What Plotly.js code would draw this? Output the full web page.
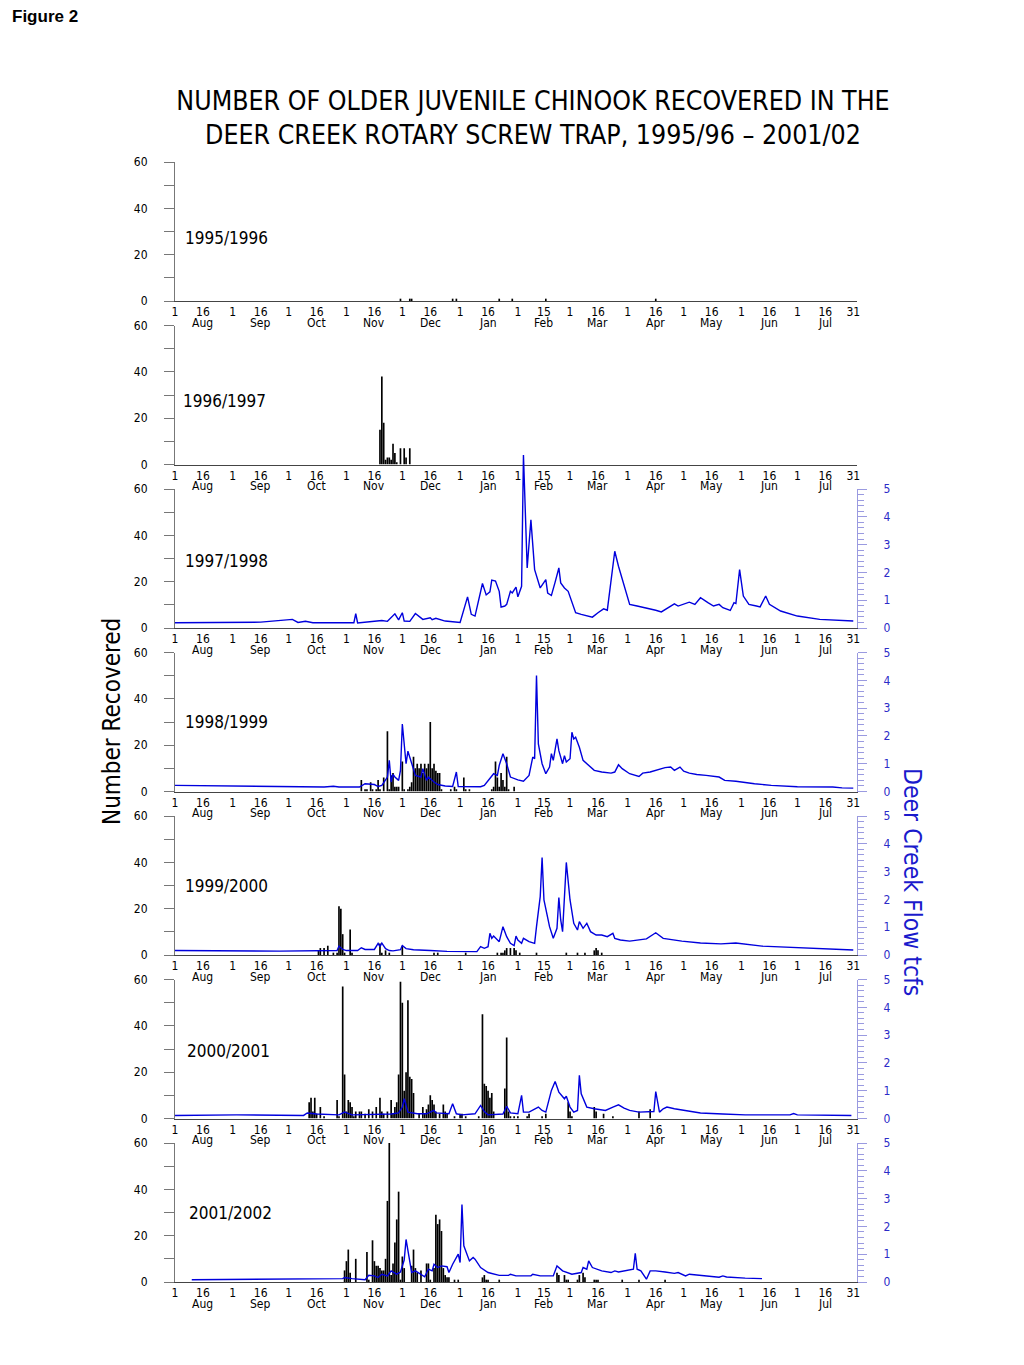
<!DOCTYPE html>
<html>
<head>
<meta charset="utf-8">
<script src="https://cdn.plot.ly/plotly-3.0.1.min.js"></script>
<style>
html,body{margin:0;padding:0;background:#fff;}
#chart{width:1024px;height:1365px;}
</style>
</head>
<body>
<div id="chart"></div>
<script>
// ---------- DATA ----------
// x = day offset from August 1 (0 = Aug 1, 364 = Jul 31)
const seasonLabels = ["1995/1996","1996/1997","1997/1998","1998/1999","1999/2000","2000/2001","2001/2002"];
const monthNames = ["Aug","Sep","Oct","Nov","Dec","Jan","Feb","Mar","Apr","May","Jun","Jul"];
const monthStartDays = [0,31,61,92,122,153,184,212,243,273,304,334];
const midMonthDays = [15,46,76,107,137,168,198,227,258,288,319,349];
const midMonthLabels = ["16","16","16","16","16","16","15","16","16","16","16","16"];
const lastDay = 364;
const lastDayLabel = "31";

// Fish counts (number recovered per day)
const fish9596Day = [121,126,127,149,151,174,181,199,258];
const fish9596N   = [1,1,1,1,1,1,1,1,1];

const fish9697Day = [110,111,112,113,114,115,116,117,118,119,121,123,124,126];
const fish9697N   = [15,38,18,2,3,3,2,9,5,1,7,7,3,7];

const fish9798Day = [];
const fish9798N   = [];

const fish9899Day = [100,102,103,105,106,108,109,110,112,114,115,116,117,118,119,120,122,123,125,126,127,128,129,130,131,132,133,134,135,136,137,138,139,140,141,142,143,148,150,151,155,156,158,170,171,172,173,174,175,176,177,178,179,182];
const fish9899N   = [5,1,1,4,1,1,5,1,6,26,1,7,8,2,2,2,13,1,1,2,4,15,10,12,10,12,8,12,10,12,30,10,12,9,8,8,1,1,2,1,6,1,1,1,2,13,6,2,8,5,2,15,1,2];

const fish9900Day = [77,78,80,82,85,87,88,89,90,91,94,95,110,111,113,115,122,139,141,156,173,175,176,177,178,180,182,183,185,194,210,216,220,225,226,227,229];
const fish9900N   = [2,3,3,4,1,1,21,20,9,1,11,1,5,1,2,1,4,1,1,1,1,1,1,2,3,3,3,2,1,1,1,1,1,2,3,2,1];

const fish0001Day = [72,73,74,75,76,78,80,87,88,90,91,92,93,94,95,96,97,99,100,102,104,106,108,110,111,112,114,116,117,118,119,120,121,122,123,124,125,126,127,128,131,133,134,135,136,137,138,139,140,142,144,145,146,150,153,154,156,163,165,166,167,168,169,170,171,177,178,179,180,182,184,189,190,197,199,211,212,213,225,226,230,235,249,255];
const fish0001N   = [7,9,3,9,2,5,1,8,1,57,19,3,8,7,5,1,3,3,3,2,4,3,5,9,3,2,3,8,2,5,7,19,59,50,12,20,51,18,17,11,2,5,2,4,6,10,8,6,3,2,6,3,2,1,2,2,1,1,45,15,14,12,9,11,3,13,35,3,1,1,1,1,2,1,2,7,3,1,5,3,2,1,3,4];

const fish0102Day = [91,92,93,94,97,103,104,106,107,108,109,110,111,112,113,114,115,116,117,118,119,120,121,122,123,127,128,129,130,132,135,136,137,139,140,141,142,143,144,145,146,147,150,152,165,166,167,168,174,205,206,209,210,211,216,217,219,220,225,226,227,240,249,263];
const fish0102N   = [5,9,14,4,10,13,1,18,9,7,7,6,5,5,10,35,62,3,8,17,27,39,1,11,6,7,14,6,4,5,8,8,1,6,29,25,27,22,6,3,2,2,1,1,2,3,1,1,1,4,3,3,1,1,1,3,4,2,1,1,1,1,1,1];

// Deer Creek flow (tcfs)
const flow9798Day  = [0,20,46,63,66,70,74,96,97,98,109,111,114,118,120,122,123,126,129,133,137,138,140,145,153,157,159,161,165,167,169,170,172,174,175,177,178,180,181,183,184,186,187,189,191,193,196,199,200,202,204,206,207,209,211,213,215,218,222,224,227,230,232,234,236,238,241,244,248,251,255,258,261,263,268,270,274,276,279,282,286,289,292,294,298,300,301,303,305,308,312,314,317,319,325,334,346,364];
const flow9798Tcfs = [0.19,0.21,0.21,0.31,0.2,0.24,0.19,0.19,0.52,0.18,0.25,0.27,0.24,0.51,0.29,0.55,0.25,0.24,0.52,0.31,0.37,0.3,0.35,0.25,0.2,1.12,0.49,0.43,1.6,1.19,1.3,1.72,1.69,1.32,0.75,0.79,0.85,1.32,1.26,1.47,1.12,1.5,6.22,2.16,3.89,2.1,1.44,1.74,1.26,1.17,1.65,2.16,1.62,1.44,1.32,0.91,0.55,0.49,0.43,0.39,0.55,0.69,0.64,1.8,2.76,2.22,1.5,0.85,0.79,0.75,0.69,0.64,0.58,0.67,0.87,0.79,0.87,0.93,0.85,1.09,0.91,0.79,0.85,0.73,0.63,0.91,0.88,2.1,1.15,0.85,0.79,0.76,1.15,0.85,0.61,0.43,0.31,0.25];

const flow9899Day  = [0,40,80,85,88,99,102,107,109,111,114,115,116,117,118,120,121,122,124,125,127,129,132,133,135,136,139,141,145,149,151,152,164,166,171,173,174,176,178,180,184,187,190,192,193,194,195,197,199,201,202,203,205,206,208,209,210,212,213,214,215,217,219,222,225,229,234,236,238,240,244,249,251,255,258,263,266,268,271,273,276,280,285,292,295,301,311,320,334,353,358,364];
const flow9899Tcfs = [0.22,0.2,0.16,0.19,0.16,0.16,0.28,0.25,0.18,0.22,0.52,1.12,0.34,0.61,0.52,0.4,0.76,2.43,1.0,1.45,1.0,0.58,0.52,0.82,0.4,0.52,0.34,0.25,0.2,0.18,0.7,0.18,0.17,0.22,0.64,0.58,0.94,1.36,1.0,0.52,0.42,0.37,0.58,1.24,1.18,4.17,1.71,1.0,0.64,0.88,1.36,1.12,1.89,1.47,1.0,1.29,1.06,1.18,2.13,1.89,1.95,1.59,1.12,0.94,0.76,0.7,0.66,0.7,0.96,0.82,0.64,0.54,0.66,0.7,0.76,0.86,0.88,0.76,0.88,0.73,0.66,0.61,0.58,0.52,0.4,0.37,0.28,0.22,0.17,0.16,0.13,0.12];

const flow9900Day  = [0,30,56,87,88,90,92,98,100,102,107,109,110,111,113,115,117,121,122,124,128,137,146,162,164,166,168,169,170,171,173,174,176,178,180,182,183,184,186,187,190,193,194,196,197,198,201,203,205,206,207,208,210,212,214,216,217,219,221,223,226,229,232,235,236,239,244,253,258,262,272,282,293,301,315,336,364];
const flow9900Tcfs = [0.16,0.14,0.14,0.16,0.32,0.2,0.16,0.16,0.26,0.2,0.2,0.42,0.3,0.43,0.23,0.16,0.15,0.19,0.34,0.23,0.19,0.16,0.13,0.12,0.3,0.24,0.3,0.78,0.6,0.68,0.54,0.48,1.02,0.66,0.42,0.34,0.68,0.54,0.42,0.6,0.48,0.42,1.02,2.1,3.51,1.98,1.02,0.6,0.96,2.07,1.26,0.84,3.33,1.98,1.14,0.9,1.2,0.96,1.14,0.84,0.72,0.72,0.66,0.78,0.6,0.54,0.5,0.58,0.8,0.6,0.5,0.43,0.4,0.43,0.32,0.25,0.18];

const flow0001Day  = [0,33,69,71,76,88,91,95,116,120,122,123,125,130,135,139,140,145,147,149,151,154,161,164,166,168,176,178,180,184,186,187,190,195,197,199,202,204,206,209,210,212,214,216,217,218,221,225,231,235,238,241,244,249,255,257,258,260,262,264,268,276,282,294,306,330,332,334,363];
const flow0001Tcfs = [0.11,0.13,0.11,0.2,0.16,0.13,0.23,0.13,0.16,0.2,0.41,0.71,0.23,0.17,0.17,0.29,0.2,0.17,0.17,0.53,0.17,0.13,0.17,0.47,0.25,0.13,0.16,0.44,0.2,0.17,0.83,0.23,0.23,0.41,0.29,0.23,1.01,1.33,0.95,0.71,0.8,0.41,0.23,0.29,1.55,0.89,0.41,0.35,0.29,0.41,0.49,0.37,0.29,0.23,0.23,0.25,0.97,0.23,0.35,0.41,0.35,0.25,0.2,0.16,0.13,0.13,0.18,0.13,0.11];

const flow0102Day  = [9,54,57,59,90,91,95,102,104,107,109,111,114,116,119,121,123,124,126,127,129,132,134,136,138,139,141,143,146,147,149,152,153,154,155,158,160,161,164,168,174,179,180,183,191,192,196,203,205,208,213,218,219,221,222,224,229,234,236,238,242,246,247,248,250,253,255,258,263,268,270,274,276,282,292,294,296,306,315];
const flow0102Tcfs = [0.08,0.1,0.12,0.1,0.12,0.16,0.12,0.08,0.24,0.22,0.16,0.28,0.22,0.4,0.28,0.36,0.79,1.53,0.82,0.34,0.4,0.28,0.19,0.46,0.4,0.64,0.52,0.58,0.55,0.34,0.64,1.0,0.7,2.79,1.3,0.76,0.88,0.82,0.52,0.34,0.24,0.24,0.28,0.22,0.22,0.28,0.22,0.22,0.58,0.4,0.28,0.34,0.52,0.46,0.76,0.52,0.4,0.34,0.4,0.36,0.4,0.46,1.03,0.46,0.4,0.1,0.4,0.4,0.36,0.31,0.34,0.22,0.28,0.24,0.17,0.22,0.18,0.14,0.12];

const fishDays   = [fish9596Day, fish9697Day, fish9798Day, fish9899Day, fish9900Day, fish0001Day, fish0102Day];
const fishCounts = [fish9596N, fish9697N, fish9798N, fish9899N, fish9900N, fish0001N, fish0102N];
const flowDays   = [null, null, flow9798Day, flow9899Day, flow9900Day, flow0001Day, flow0102Day];
const flowTcfs   = [null, null, flow9798Tcfs, flow9899Tcfs, flow9900Tcfs, flow0001Tcfs, flow0102Tcfs];

// ---------- LAYOUT ----------
const FONT = "'Liberation Sans Narrow', 'DejaVu Sans Condensed', 'Open Sans', sans-serif";
const W = 1024, H = 1365;
const plotTop = 162, plotBottom = 1282, plotH = plotBottom - plotTop;
const panelH = 139, panelStep = 163.5;
const flowBlue = '#0000dd';
const axisBlue = '#9a9ae0';
const labelBlue = '#2b2bc8';

const tickVals = [], tickText = [];
for (let m = 0; m < 12; m++) {
  tickVals.push(monthStartDays[m]); tickText.push("1");
  tickVals.push(midMonthDays[m]); tickText.push(midMonthLabels[m]);
}
tickVals.push(lastDay); tickText.push(lastDayLabel);

const labelX = [4.3, 3.2, 4.3, 4.3, 4.3, 5.4, 6.4];
const labelY = [27.2, 27.6, 28.9, 30.2, 29.8, 29.3, 29.8];

const layout = {
  width: W, height: H,
  margin: {l: 175, r: W - 857, t: plotTop, b: H - plotBottom, pad: 0},
  paper_bgcolor: '#fff', plot_bgcolor: 'rgba(0,0,0,0)',
  showlegend: false,
  font: {family: FONT, color: '#000', size: 12},
  title: {
    text: 'NUMBER OF OLDER JUVENILE CHINOOK RECOVERED IN THE<br>DEER CREEK ROTARY SCREW TRAP, 1995/96 \u2013 2001/02',
    x: 533 / W, xanchor: 'center', xref: 'container',
    y: 1 - 110 / H, yanchor: 'middle', yref: 'container',
    font: {family: FONT, size: 26.5, color: '#000'}
  },
  annotations: [],
  shapes: []
};

const traces = [];
const domains = [];
for (let k = 0; k < 7; k++) {
  const top = plotTop + k * panelStep;
  const bot = top + panelH;
  const d = [(plotBottom - bot) / plotH, (plotBottom - top) / plotH];
  domains.push(d);
  const xs = k === 0 ? '' : String(k + 1);
  layout['xaxis' + xs] = {
    domain: [0, 1], range: [0, 366], anchor: 'y' + xs,
    tickmode: 'array', tickvals: tickVals, ticktext: tickText,
    ticks: '', showline: true, linecolor: '#444', linewidth: 1,
    showgrid: false, zeroline: false, fixedrange: true,
    tickfont: {family: FONT, size: 12, color: '#000'}, tickangle: 0
  };
  layout['yaxis' + xs] = {
    domain: d, range: [0, 60], anchor: 'x' + xs,
    tickmode: 'array', tickvals: [0, 20, 40, 60],
    ticks: 'outside', ticklen: 10, tickcolor: '#777', tickwidth: 1,
    minor: {tickmode: 'array', tickvals: [10, 30, 50], ticks: 'outside', ticklen: 10, tickcolor: '#777'},
    showline: true, linecolor: '#777', linewidth: 1,
    showgrid: false, zeroline: false, fixedrange: true,
    ticklabelstandoff: 14,
    tickfont: {family: FONT, size: 12, color: '#000'}
  };
  traces.push({
    type: 'bar', x: fishDays[k], y: fishCounts[k], width: 0.9,
    marker: {color: '#000', line: {width: 0}},
    xaxis: 'x' + xs, yaxis: 'y' + xs, cliponaxis: false, hoverinfo: 'skip'
  });
  layout.annotations.push({
    text: seasonLabels[k], x: labelX[k], y: labelY[k],
    xref: 'x' + xs, yref: 'y' + xs, xanchor: 'left', yanchor: 'middle',
    showarrow: false, font: {family: FONT, size: 17, color: '#000'}
  });
  for (let m = 0; m < 12; m++) {
    layout.annotations.push({
      text: monthNames[m], x: midMonthDays[m], y: -0.158,
      xref: 'x' + xs, yref: 'y' + xs + ' domain', xanchor: 'center', yanchor: 'middle',
      showarrow: false, font: {family: FONT, size: 12, color: '#000'}
    });
  }
}

// flow axes (right side) for panels 3..7
for (let k = 2; k < 7; k++) {
  const xs = String(k + 1);
  const fa = 'yaxis' + (k + 6);
  layout[fa] = {
    overlaying: 'y' + xs, side: 'right', anchor: 'x' + xs,
    range: [0, 5], tickmode: 'array', tickvals: [0, 1, 2, 3, 4, 5],
    ticks: 'outside', ticklen: 9, tickcolor: axisBlue, tickwidth: 1,
    minor: {dtick: 0.2, ticks: 'outside', ticklen: 6, tickcolor: axisBlue},
    showline: true, linecolor: axisBlue, linewidth: 1,
    showgrid: false, zeroline: false, fixedrange: true,
    ticklabelstandoff: 14,
    tickfont: {family: FONT, size: 12, color: labelBlue}
  };
  if (k === 2) {
    // panel 3 flow peak rises above the panel: draw it on a taller hidden axis
    traces.push({type: 'scatter', x: [], y: [], xaxis: 'x3', yaxis: 'y8', hoverinfo: 'skip'});
    const ext = 45 / plotH;
    const dd = domains[2];
    const frac = (dd[1] + ext - dd[0]) / (dd[1] - dd[0]);
    layout.yaxis13 = {domain: [dd[0], dd[1] + ext], range: [0, 5 * frac], anchor: 'x3', visible: false, fixedrange: true};
    traces.push({
      type: 'scatter', mode: 'lines', x: flowDays[k], y: flowTcfs[k],
      line: {color: flowBlue, width: 1.4}, xaxis: 'x3', yaxis: 'y13', hoverinfo: 'skip'
    });
  } else {
    traces.push({
      type: 'scatter', mode: 'lines', x: flowDays[k], y: flowTcfs[k],
      line: {color: flowBlue, width: 1.4}, xaxis: 'x' + xs, yaxis: 'y' + (k + 6), hoverinfo: 'skip'
    });
  }
}

// axis titles and figure label
layout.annotations.push({
  text: 'Number Recovered', textangle: -90,
  x: (112 - 175) / 682, y: (plotBottom - 722) / plotH, xref: 'paper', yref: 'paper',
  xanchor: 'center', yanchor: 'middle', showarrow: false,
  font: {family: FONT, size: 24, color: '#000'}
});
layout.annotations.push({
  text: 'Deer Creek Flow tcfs', textangle: 90,
  x: (912 - 175) / 682, y: (plotBottom - 882) / plotH, xref: 'paper', yref: 'paper',
  xanchor: 'center', yanchor: 'middle', showarrow: false,
  font: {family: FONT, size: 24.5, color: '#1a1acc'}
});
layout.annotations.push({
  text: '<b>Figure 2</b>',
  x: (10 - 175) / 682, y: (plotBottom - 17) / plotH, xref: 'paper', yref: 'paper',
  xanchor: 'left', yanchor: 'middle', showarrow: false,
  font: {family: "'Liberation Sans', Arial, sans-serif", size: 17, color: '#000'}
});

Plotly.newPlot('chart', traces, layout, {displayModeBar: false, staticPlot: true});
</script>
</body>
</html>
